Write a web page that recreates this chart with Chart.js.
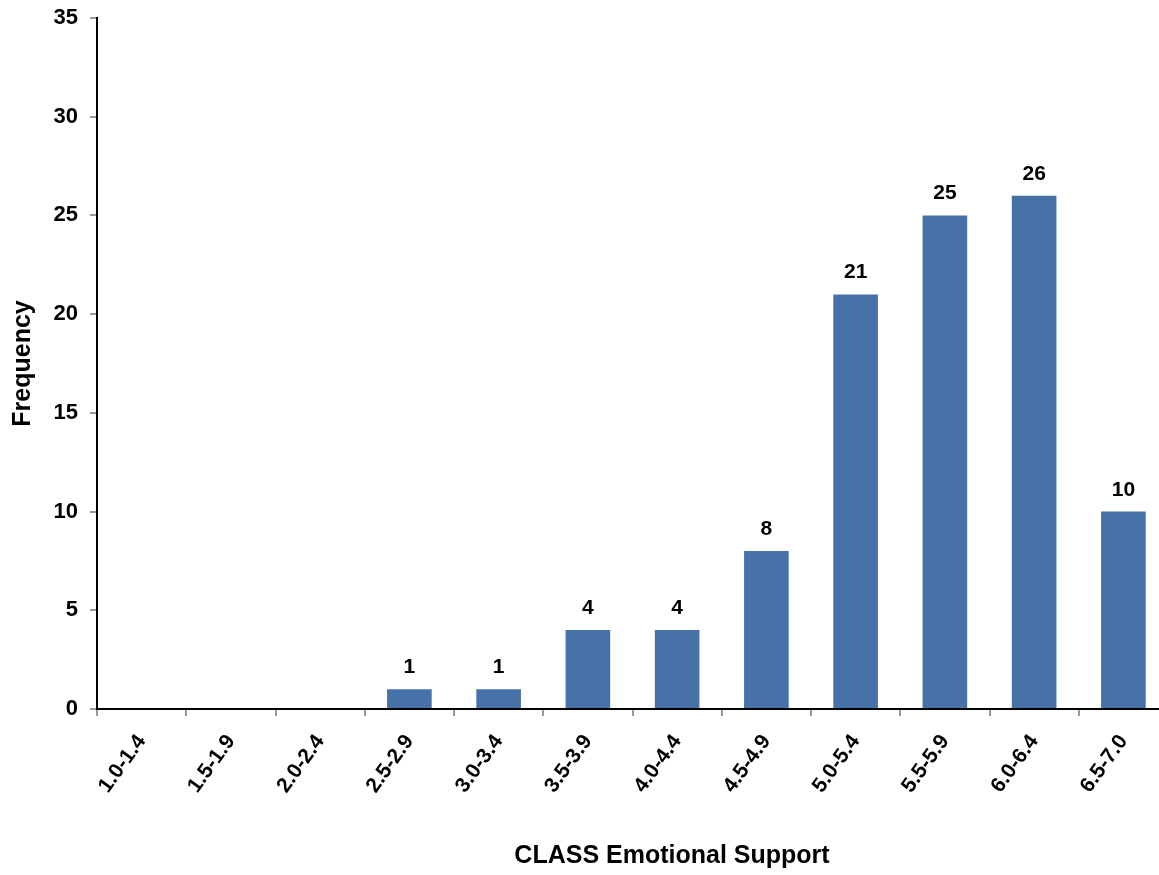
<!DOCTYPE html>
<html>
<head>
<meta charset="utf-8">
<title>CLASS Emotional Support</title>
<script src="https://cdn.jsdelivr.net/npm/chart.js@4.4.1/dist/chart.umd.min.js"></script>
<style>
  html, body { margin: 0; padding: 0; background: #fff; overflow: hidden; }
  #wrap { width: 1159px; height: 875px; overflow: hidden; }
</style>
</head>
<body>
<div id="wrap">
  <canvas id="myChart" width="1168" height="875"></canvas>
</div>
<script>
// Score bins and how many classrooms fell in each
const categories = ["1.0-1.4", "1.5-1.9", "2.0-2.4", "2.5-2.9", "3.0-3.4", "3.5-3.9",
                    "4.0-4.4", "4.5-4.9", "5.0-5.4", "5.5-5.9", "6.0-6.4", "6.5-7.0"];
const frequency = [0, 0, 0, 1, 1, 4, 4, 8, 21, 25, 26, 10];
const yTicks = [0, 5, 10, 15, 20, 25, 30, 35];

const FONT = "'Liberation Sans', Arial, sans-serif";

// Writes the count above each bar (skips empty bins)
const barValues = {
  id: 'barValues',
  afterDatasetsDraw(chart) {
    const ctx = chart.ctx;
    const meta = chart.getDatasetMeta(0);
    ctx.save();
    ctx.font = "bold 21px " + FONT;
    ctx.fillStyle = "#000";
    ctx.textAlign = "center";
    ctx.textBaseline = "alphabetic";
    meta.data.forEach((bar, i) => {
      const v = frequency[i];
      if (v > 0) ctx.fillText(String(v), bar.x, bar.y - 16);
    });
    ctx.restore();
  }
};

// X axis title sits under the labels, a bit right of centre
const xTitle = {
  id: 'xTitle',
  afterDraw(chart) {
    const ctx = chart.ctx;
    ctx.save();
    ctx.font = "bold 25px " + FONT;
    ctx.fillStyle = "#000";
    ctx.textAlign = "center";
    ctx.textBaseline = "middle";
    ctx.fillText("CLASS Emotional Support", 672, 856);
    ctx.restore();
  }
};

const ctx = document.getElementById('myChart').getContext('2d');
new Chart(ctx, {
  type: 'bar',
  data: {
    labels: categories,
    datasets: [{
      label: 'Frequency',
      data: frequency,
      backgroundColor: '#4672A8',
      borderWidth: 0,
      categoryPercentage: 1.0,
      barPercentage: 0.5
    }]
  },
  options: {
    responsive: false,
    animation: false,
    layout: { padding: { top: 18, right: 0, left: 0, bottom: 0 } },
    plugins: {
      legend: { display: false },
      tooltip: { enabled: false }
    },
    scales: {
      x: {
        grid: {
          offset: true,
          drawOnChartArea: false,
          drawTicks: true,
          tickLength: 7,
          color: '#999',
          lineWidth: 2
        },
        border: { color: '#000', width: 2 },
        ticks: {
          color: '#000',
          font: { family: FONT, size: 21, weight: 'bold' },
          minRotation: 54,
          maxRotation: 54,
          padding: 14,
          autoSkip: false
        },
        afterFit(scale) { scale.height = 166; }
      },
      y: {
        min: 0,
        max: 35,
        afterBuildTicks(scale) { scale.ticks = yTicks.map(v => ({ value: v })); },
        grid: {
          drawOnChartArea: false,
          drawTicks: true,
          tickLength: 7,
          color: '#999',
          lineWidth: 2
        },
        border: { color: '#000', width: 2 },
        ticks: {
          color: '#000',
          font: { family: FONT, size: 22, weight: 'bold' },
          padding: 12
        },
        title: {
          display: true,
          text: 'Frequency',
          color: '#000',
          font: { family: FONT, size: 25, weight: 'bold' },
          padding: { top: 8, bottom: 0 }
        },
        afterFit(scale) {
          scale.width = 97;
          scale.paddingTop = 0;
          scale.paddingBottom = 0;
        }
      }
    }
  },
  plugins: [barValues, xTitle]
});
</script>
</body>
</html>
